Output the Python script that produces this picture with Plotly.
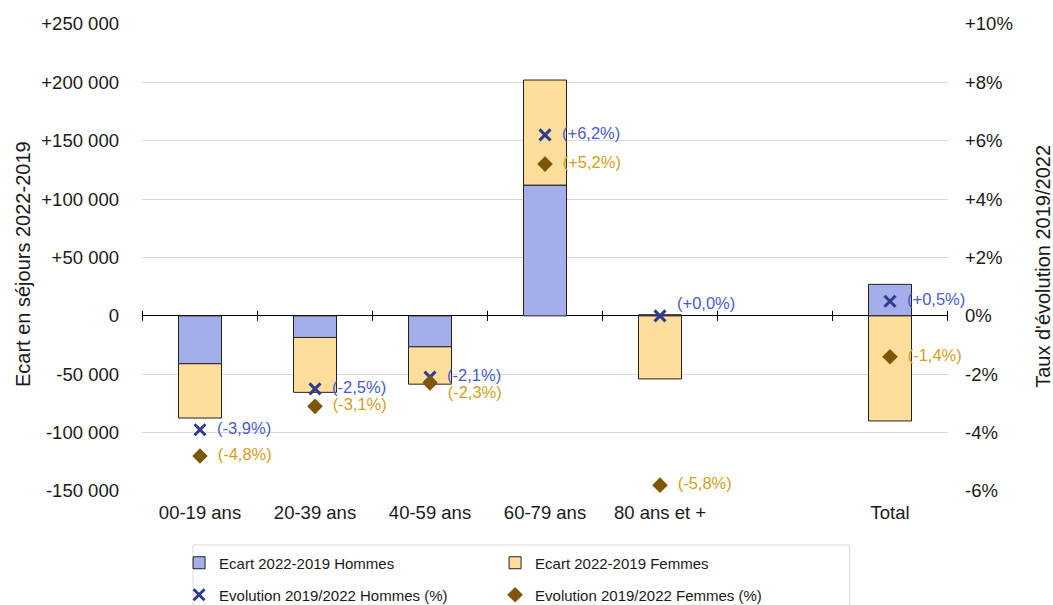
import plotly.graph_objects as go

categories = ["00-19 ans", "20-39 ans", "40-59 ans", "60-79 ans", "80 ans et +", " ", "Total"]
ecart_hommes = [-41000, -18500, -26500, 112000, 1000, None, 27000]
ecart_femmes = [-46500, -47000, -32000, 90000, -54000, None, -90000]
evol_hommes = [-3.9, -2.5, -2.1, 6.2, 0.0, None, 0.5]
evol_femmes = [-4.8, -3.1, -2.3, 5.2, -5.8, None, -1.4]

left_ticks = list(range(-150000, 250001, 50000))
right_ticks = list(range(-6, 11, 2))

FONT = "Liberation Sans, Arial, sans-serif"


def fmt_count(v):
    if v == 0:
        return "0"
    return ("+" if v > 0 else "-") + f"{abs(v):,}".replace(",", " ")


def fmt_pct_tick(v):
    if v == 0:
        return "0%"
    return f"{v:+d}%"


def fmt_label(v):
    if v is None:
        return ""
    return "\u00a0\u00a0(" + f"{v:+.1f}".replace(".", ",") + "%)"


fig = go.Figure()

fig.add_trace(
    go.Bar(
        x=categories,
        y=ecart_hommes,
        name="Ecart 2022-2019 Hommes",
        marker=dict(color="#A4AEE8", line=dict(color="#222222", width=1)),
        legend="legend",
    )
)
fig.add_trace(
    go.Bar(
        x=categories,
        y=ecart_femmes,
        name="Ecart 2022-2019 Femmes",
        marker=dict(color="#FFDE9B", line=dict(color="#222222", width=1)),
        legend="legend",
    )
)

# labels: a blank second line nudges a label up, a blank first line nudges it down
text_h = [fmt_label(v) for v in evol_hommes]
text_h[4] = text_h[4] + "<br>\u00a0"
text_f = [fmt_label(v) for v in evol_femmes]
text_f[2] = "\u00a0<br>" + text_f[2]

fig.add_trace(
    go.Scatter(
        x=categories,
        y=evol_hommes,
        yaxis="y2",
        name="Evolution 2019/2022 Hommes (%)",
        mode="markers+text",
        marker=dict(symbol="x-thin", size=11, color="#2F3B8F",
                    line=dict(width=3, color="#2F3B8F")),
        text=text_h,
        textposition="middle right",
        textfont=dict(color="#4A5BD0", size=16.5, family=FONT),
        cliponaxis=False,
        legend="legend2",
    )
)
fig.add_trace(
    go.Scatter(
        x=categories,
        y=evol_femmes,
        yaxis="y2",
        name="Evolution 2019/2022 Femmes (%)",
        mode="markers+text",
        marker=dict(symbol="diamond", size=12, color="#7F5608"),
        text=text_f,
        textposition="middle right",
        textfont=dict(color="#D4A018", size=16.5, family=FONT),
        cliponaxis=False,
        legend="legend2",
    )
)

# crossing tick marks on the category axis (at category boundaries, on y=0)
for i in range(len(categories) + 1):
    fig.add_shape(
        type="line",
        xref="x",
        yref="y",
        x0=i - 0.5,
        x1=i - 0.5,
        ysizemode="pixel",
        yanchor=0,
        y0=-5,
        y1=5,
        line=dict(color="black", width=1),
    )

# legend frame around both legend rows
fig.add_shape(
    type="rect",
    xref="paper",
    yref="paper",
    x0=0.0633,
    x1=0.878,
    y0=-0.1156,
    y1=-0.32,
    line=dict(color="#D9D9D9", width=1),
    fillcolor="rgba(0,0,0,0)",
)

# axis titles
fig.add_annotation(
    text="Ecart en séjours 2022-2019",
    xref="paper", yref="paper",
    x=-0.1476, y=0.486,
    xanchor="center", yanchor="middle",
    textangle=-90, showarrow=False,
    font=dict(size=20, color="#1a1a1a"),
)
fig.add_annotation(
    text="Taux d'évolution 2019/2022",
    xref="paper", yref="paper",
    x=1.1179, y=0.48,
    xanchor="center", yanchor="middle",
    textangle=-90, showarrow=False,
    font=dict(size=20, color="#1a1a1a"),
)

legend_common = dict(
    orientation="h",
    x=0.046,
    xanchor="left",
    yanchor="middle",
    entrywidth=271,
    entrywidthmode="pixels",
    bgcolor="rgba(0,0,0,0)",
    borderwidth=0,
    font=dict(size=15, family=FONT),
    traceorder="normal",
)

fig.update_layout(
    barmode="relative",
    bargap=0.626,
    width=1053,
    height=605,
    margin=dict(l=142, r=105, t=24, b=114, autoexpand=False),
    paper_bgcolor="white",
    plot_bgcolor="white",
    font=dict(family=FONT, size=18.5, color="#1a1a1a"),
    xaxis=dict(
        type="category",
        categoryorder="array",
        categoryarray=categories,
        showline=False,
        ticks="",
        tickfont=dict(size=18.5),
        ticklabelstandoff=8,
        showgrid=False,
        automargin=False,
    ),
    yaxis=dict(
        range=[-150000, 250000],
        tickvals=left_ticks,
        ticktext=[fmt_count(v) for v in left_ticks],
        showgrid=True,
        gridcolor="#D9D9D9",
        zeroline=True,
        zerolinecolor="black",
        zerolinewidth=1,
        showline=False,
        ticks="",
        ticklabelstandoff=22,
        tickfont=dict(size=18.5),
        automargin=False,
    ),
    yaxis2=dict(
        range=[-6, 10],
        overlaying="y",
        side="right",
        tickvals=right_ticks,
        ticktext=[fmt_pct_tick(v) for v in right_ticks],
        showgrid=False,
        zeroline=False,
        showline=False,
        ticks="",
        ticklabelstandoff=16,
        tickfont=dict(size=18.5),
        automargin=False,
    ),
    legend=dict(legend_common, y=-0.1542),
    legend2=dict(legend_common, y=-0.2227),
)

# drop the default page margin so the figure fills the window exactly
fig.write_html(
    "out.html",
    config={"displayModeBar": False},
    post_script="document.body.style.margin = '0px';",
)
